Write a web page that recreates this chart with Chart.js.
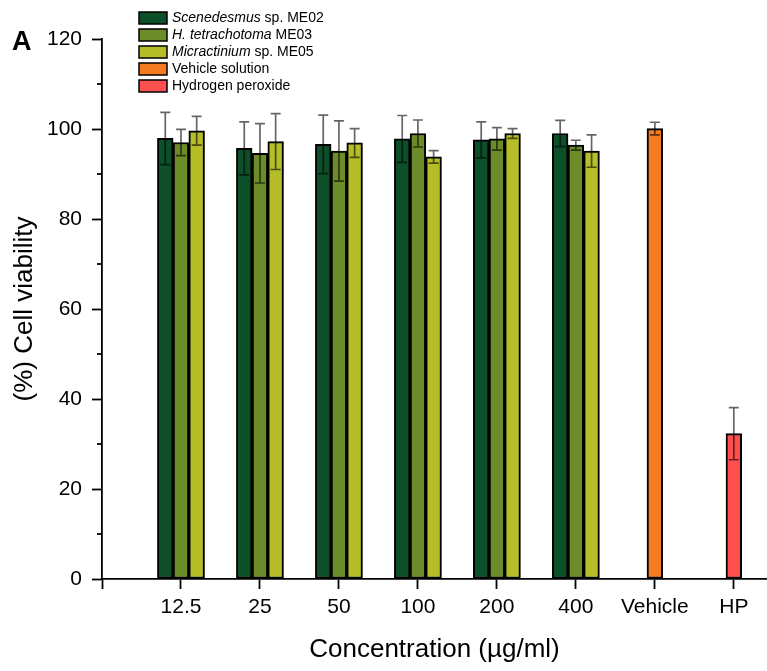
<!DOCTYPE html>
<html>
<head>
<meta charset="utf-8">
<script src="https://cdn.jsdelivr.net/npm/chart.js@4.4.0/dist/chart.umd.min.js"></script>
<style>
  body { margin: 0; background: #fff; }
  #wrap { width: 767px; height: 671px; }
</style>
</head>
<body>
<div id="wrap"><canvas id="barChart" width="767" height="671"></canvas></div>
<script>
var groups = ['12.5', '25', '50', '100', '200', '400', 'Vehicle', 'HP'];

// viability (%) per extract concentration, mean and SD
var me02 = [97.9, 95.7, 96.6, 97.8, 97.6, 99.0];
var me02Err = [5.8, 5.9, 6.5, 5.2, 4.0, 2.9];
var me03 = [97.0, 94.6, 95.1, 99.0, 97.8, 96.4];
var me03Err = [2.9, 6.6, 6.7, 3.0, 2.5, 1.1];
var me05 = [99.6, 97.2, 96.9, 93.8, 99.0, 95.1];
var me05Err = [3.2, 6.2, 3.2, 1.4, 1.1, 3.6];
var vehicle = [100.1];
var vehicleErr = [1.4];
var hp = [32.3];
var hpErr = [5.8];

var yTicks = [0, 20, 40, 60, 80, 100, 120];
var FONT = '"Liberation Sans", Arial, sans-serif';

// legend text, split so the species part can be italic
var legendParts = [
  [['Scenedesmus', true], [' sp. ME02', false]],
  [['H. tetrachotoma', true], [' ME03', false]],
  [['Micractinium', true], [' sp. ME05', false]],
  [['Vehicle solution', false]],
  [['Hydrogen peroxide', false]]
];

// one slot per group; empty slots are null so skipNull centres the rest
function slots(vals, start) {
  var out = [];
  for (var i = 0; i < groups.length; i++) {
    var k = i - start;
    out.push({ x: i + 1, y: (k >= 0 && k < vals.length) ? vals[k] : null });
  }
  return out;
}
function errSlots(errs, start) {
  var out = [];
  for (var i = 0; i < groups.length; i++) {
    var k = i - start;
    out.push((k >= 0 && k < errs.length) ? errs[k] : null);
  }
  return out;
}

function makeSet(label, vals, errs, start, color) {
  return {
    label: label,
    data: slots(vals, start),
    errors: errSlots(errs, start),
    backgroundColor: color,
    borderColor: '#000',
    borderWidth: 2,
    borderSkipped: false,
    barThickness: 15.7,
    skipNull: true
  };
}

var errorBars = {
  id: 'errorBars',
  afterDatasetsDraw: function(chart) {
    var ctx = chart.ctx, ys = chart.scales.y;
    ctx.save();
    ctx.strokeStyle = 'rgba(0,0,0,0.6)';
    ctx.lineWidth = 1.7;
    chart.data.datasets.forEach(function(ds, di) {
      var meta = chart.getDatasetMeta(di);
      meta.data.forEach(function(bar, i) {
        var p = ds.data[i];
        if (p.y === null) return;
        var e = ds.errors[i];
        var top = ys.getPixelForValue(p.y + e);
        var bot = ys.getPixelForValue(p.y - e);
        ctx.beginPath();
        ctx.moveTo(bar.x, top); ctx.lineTo(bar.x, bot);
        ctx.moveTo(bar.x - 5, top); ctx.lineTo(bar.x + 5, top);
        ctx.moveTo(bar.x - 5, bot); ctx.lineTo(bar.x + 5, bot);
        ctx.stroke();
      });
    });
    ctx.restore();
  }
};

var extras = {
  id: 'extras',
  afterDraw: function(chart) {
    var ctx = chart.ctx, ys = chart.scales.y, left = chart.chartArea.left;
    ctx.save();
    // minor ticks halfway between the labelled ones
    ctx.strokeStyle = '#000';
    ctx.lineWidth = 1.8;
    for (var i = 0; i < yTicks.length - 1; i++) {
      var py = ys.getPixelForValue((yTicks[i] + yTicks[i + 1]) / 2);
      ctx.beginPath();
      ctx.moveTo(left - 5, py); ctx.lineTo(left, py);
      ctx.stroke();
    }
    // panel letter
    ctx.fillStyle = '#000';
    ctx.font = 'bold 27px ' + FONT;
    ctx.textBaseline = 'alphabetic';
    ctx.fillText('A', 12, 50);
    // legend
    var bx = 139, by = 12, step = 17;
    ctx.textBaseline = 'middle';
    chart.data.datasets.forEach(function(ds, di) {
      var y0 = by + di * step;
      ctx.fillStyle = ds.backgroundColor;
      ctx.fillRect(bx, y0, 28, 12);
      ctx.lineWidth = 1.5;
      ctx.strokeStyle = '#000';
      ctx.strokeRect(bx, y0, 28, 12);
      var tx = 172;
      ctx.fillStyle = '#000';
      legendParts[di].forEach(function(part) {
        ctx.font = (part[1] ? 'italic ' : '') + '14px ' + FONT;
        ctx.fillText(part[0], tx, y0 + 6.5);
        tx += ctx.measureText(part[0]).width;
      });
    });
    ctx.restore();
  }
};

var ctx = document.getElementById('barChart').getContext('2d');
var chart = new Chart(ctx, {
  type: 'bar',
  data: {
    datasets: [
      makeSet('Scenedesmus sp. ME02', me02, me02Err, 0, '#0d4f28'),
      makeSet('H. tetrachotoma ME03', me03, me03Err, 0, '#6b8c29'),
      makeSet('Micractinium sp. ME05', me05, me05Err, 0, '#b5bd29'),
      makeSet('Vehicle solution', vehicle, vehicleErr, 6, '#f47b20'),
      makeSet('Hydrogen peroxide', hp, hpErr, 7, '#ff5050')
    ]
  },
  options: {
    responsive: false,
    animation: false,
    devicePixelRatio: 1,
    layout: { padding: { top: 39, left: 0, right: 0, bottom: 0 } },
    plugins: {
      legend: { display: false },
      tooltip: { enabled: false }
    },
    scales: {
      x: {
        type: 'linear',
        min: 0,
        max: 8.42,
        offset: false,
        grid: { display: true, drawOnChartArea: false, offset: false, tickLength: 10, tickColor: '#000', tickWidth: 1.8 },
        border: { display: true, color: '#000', width: 1.8 },
        ticks: {
          stepSize: 1,
          includeBounds: false,
          autoSkip: false,
          maxRotation: 0,
          padding: 6,
          color: '#000',
          font: { family: FONT, size: 21 },
          callback: function(v) {
            return (v >= 1 && v <= groups.length && v % 1 === 0) ? groups[v - 1] : '';
          }
        },
        title: {
          display: true,
          text: 'Concentration (µg/ml)',
          color: '#000',
          font: { family: FONT, size: 26 },
          padding: { top: 0, bottom: 6 }
        },
        afterFit: function(scale) { scale.height = 92; }
      },
      y: {
        min: 0,
        max: 120,
        grid: { display: true, drawOnChartArea: false, tickLength: 10, tickColor: '#000', tickWidth: 1.8 },
        border: { display: true, color: '#000', width: 1.8 },
        ticks: {
          stepSize: 20,
          padding: 10,
          color: '#000',
          font: { family: FONT, size: 21 }
        },
        title: {
          display: true,
          text: '(%) Cell viability',
          color: '#000',
          font: { family: FONT, size: 26 },
          padding: { top: 9, bottom: 0 }
        },
        afterFit: function(scale) { scale.width = 102; }
      }
    }
  },
  plugins: [errorBars, extras]
});
</script>
</body>
</html>
